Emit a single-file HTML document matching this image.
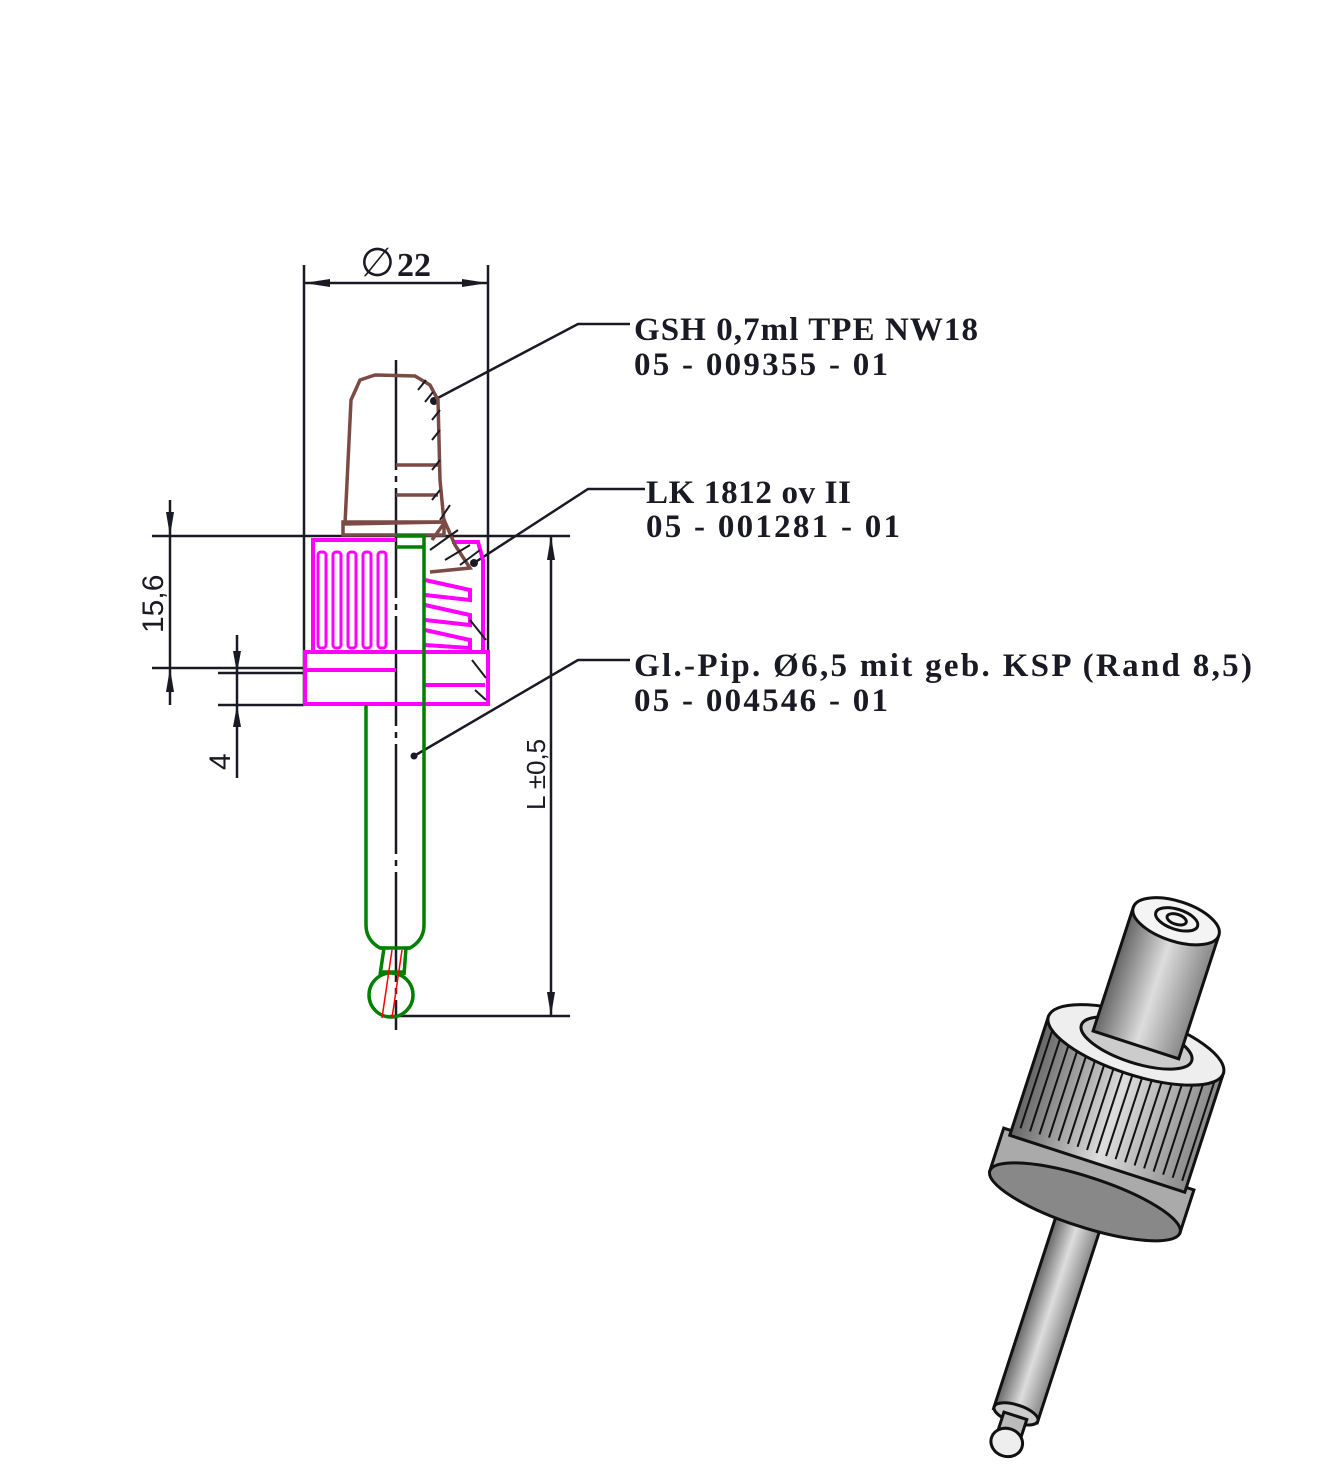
<!DOCTYPE html>
<html><head><meta charset="utf-8"><style>
html,body{margin:0;padding:0;background:#fff;}
svg{display:block;}
.lbl{font-family:"Liberation Serif",serif;font-weight:bold;font-size:33px;fill:#1a1a24;}
.dim{font-family:"Liberation Sans",sans-serif;font-size:30px;fill:#1a1a24;}
</style></head><body>
<svg width="1325" height="1481" viewBox="0 0 1325 1481" xmlns="http://www.w3.org/2000/svg">
<defs>
<linearGradient id="g1" x1="0" x2="1"><stop offset="0" stop-color="#666"/><stop offset="0.5" stop-color="#ddd"/><stop offset="1" stop-color="#888"/></linearGradient>
</defs>
<g stroke="#1a1a24" stroke-width="2.5" fill="none">
<line x1="304" y1="265" x2="304" y2="705"/>
<line x1="488" y1="265" x2="488" y2="705"/>
<line x1="304" y1="283" x2="488" y2="283"/>
<line x1="396" y1="360" x2="396" y2="1030" stroke-dasharray="110,6,6,6"/>
<line x1="152" y1="536" x2="570" y2="536"/>
<line x1="152" y1="668" x2="304" y2="668"/>
<line x1="170" y1="500" x2="170" y2="705"/>
<line x1="218" y1="673" x2="304" y2="673"/>
<line x1="218" y1="705" x2="304" y2="705"/>
<line x1="237" y1="635" x2="237" y2="778"/>
<line x1="551" y1="536" x2="551" y2="1016"/>
<line x1="390" y1="1016" x2="570" y2="1016"/>
<polyline points="434,400 578,324 630,324"/>
<polyline points="474,563 588,489 645,489"/>
<polyline points="414,756 578,660 630,660"/>
</g>
<g fill="#1a1a24">
<polygon points="304,283 330,279 330,287"/>
<polygon points="488,283 462,279 462,287"/>
<polygon points="170,536 166,512 174,512"/>
<polygon points="170,668 166,692 174,692"/>
<polygon points="237,673 233,651 241,651"/>
<polygon points="237,705 233,727 241,727"/>
<polygon points="551,536 547,560 555,560"/>
<polygon points="551,1016 547,992 555,992"/>
<circle cx="434" cy="401" r="4"/><circle cx="474" cy="563" r="4"/><circle cx="414" cy="756" r="3.5"/>
</g>
<text x="360" y="276" class="dim" style="font-size:40px">∅</text>
<text x="397" y="276" class="lbl" style="font-size:34px">22</text>
<text class="dim" transform="translate(163,633) rotate(-90)">15,6</text>
<text class="dim" transform="translate(230,770) rotate(-90)">4</text>
<text class="dim" transform="translate(545,810) rotate(-90)" style="font-size:26px">L ±0,5</text>
<text x="634" y="340" class="lbl" textLength="344">GSH 0,7ml TPE NW18</text>
<text x="634" y="375" class="lbl" textLength="254">05 - 009355 - 01</text>
<text x="646" y="503" class="lbl" textLength="205">LK 1812 ov II</text>
<text x="646" y="537" class="lbl" textLength="254">05 - 001281 - 01</text>
<text x="634" y="676" class="lbl" textLength="618">Gl.-Pip. Ø6,5 mit geb. KSP (Rand 8,5)</text>
<text x="634" y="711" class="lbl" textLength="254">05 - 004546 - 01</text>

<g stroke="#ff00ff" stroke-width="4" fill="none">
<rect x="305" y="652" width="183" height="52"/>
<line x1="305" y1="670" x2="396" y2="670"/>
<path d="M313,650 L313,540 L396,540"/>
<g stroke-width="3">
<rect x="318" y="552" width="8" height="96" rx="3"/><rect x="333" y="552" width="8" height="96" rx="3"/>
<rect x="348" y="552" width="8" height="96" rx="3"/><rect x="363" y="552" width="8" height="96" rx="3"/>
<rect x="378" y="552" width="8" height="96" rx="3"/>
</g>
<path d="M425,580 L470,590 L470,600 L425,595 M425,605 L470,615 L470,625 L425,620 M425,630 L470,640 L470,648 L425,645 M425,685 L485,685" stroke-width="4"/>
<path d="M452,542 L478,542 L483,560 L483,652"/>
</g>
<g stroke="#7b4a44" stroke-width="3.5" fill="none">
<path d="M345,524 L351,400 L360,380 L375,375 L415,376 L430,385 L438,400 L440,480 L444,522 Z"/>
<rect x="343" y="522" width="101" height="13"/>
<line x1="396" y1="465" x2="438" y2="465"/><line x1="396" y1="495" x2="438" y2="495"/>
<path d="M432,540 L445,522 L455,545 L470,568 L430,572"/>
</g>
<g stroke="#1a1a24" stroke-width="2">
<path d="M418,390 L426,380 M425,402 L433,392 M432,420 L440,410 M432,440 L440,430 M432,470 L440,460 M432,500 L440,490 M440,520 L450,505 M430,550 L458,530 M445,560 L470,545 M460,565 L480,550 M470,620 L486,640 M472,660 L486,678 M475,690 L486,700"/>
</g>
<g stroke="#008000" stroke-width="3.5" fill="none">
<path d="M396,536 L424,536 L424,925 Q424,940 410,948 L406,948 L404,975"/>
<path d="M366,705 L366,925 Q366,940 380,948 L384,948 L380,975"/>
<line x1="380" y1="948" x2="410" y2="948"/>
<line x1="381" y1="972" x2="404" y2="972"/>
<circle cx="391" cy="995" r="22"/>
<line x1="396" y1="547" x2="424" y2="547"/>
</g>
<g stroke="#ff0000" stroke-width="1.5"><line x1="392" y1="950" x2="382" y2="1018"/><line x1="402" y1="950" x2="392" y2="1018"/></g>

<g transform="translate(1105,1140) rotate(18)" stroke="#111" stroke-width="3">
<rect x="-23" y="80" width="46" height="210" fill="url(#g1)"/>
<ellipse cx="0" cy="288" rx="23" ry="9" fill="#ccc"/>
<rect x="-12" y="290" width="24" height="20" fill="#bbb"/>
<ellipse cx="0" cy="318" rx="16" ry="14" fill="#eee"/>
<rect x="-100" y="20" width="200" height="45" fill="#aaa"/>
<ellipse cx="0" cy="65" rx="100" ry="25" fill="#888"/>
<rect x="-92" y="-100" width="184" height="125" fill="url(#g1)"/>
<g stroke-width="2">
<path d="M-84,-90V15 M-74,-90V15 M-64,-90V15 M-54,-90V15 M-44,-90V15 M-34,-90V15 M-24,-90V15 M-14,-90V15 M-4,-90V15 M6,-90V15 M16,-90V15 M26,-90V15 M36,-90V15 M46,-90V15 M56,-90V15 M66,-90V15 M76,-90V15 M86,-90V15"/>
</g>
<ellipse cx="0" cy="-100" rx="92" ry="30" fill="#eee"/>
<ellipse cx="0" cy="-102" rx="58" ry="20" fill="#ccc"/>
<rect x="-45" y="-230" width="90" height="130" fill="url(#g1)"/>
<ellipse cx="0" cy="-230" rx="45" ry="20" fill="#f4f4f4"/>
<ellipse cx="0" cy="-232" rx="22" ry="10" fill="none"/>
<ellipse cx="0" cy="-232" rx="10" ry="5" fill="none"/>
</g>
</svg>
</body></html>
